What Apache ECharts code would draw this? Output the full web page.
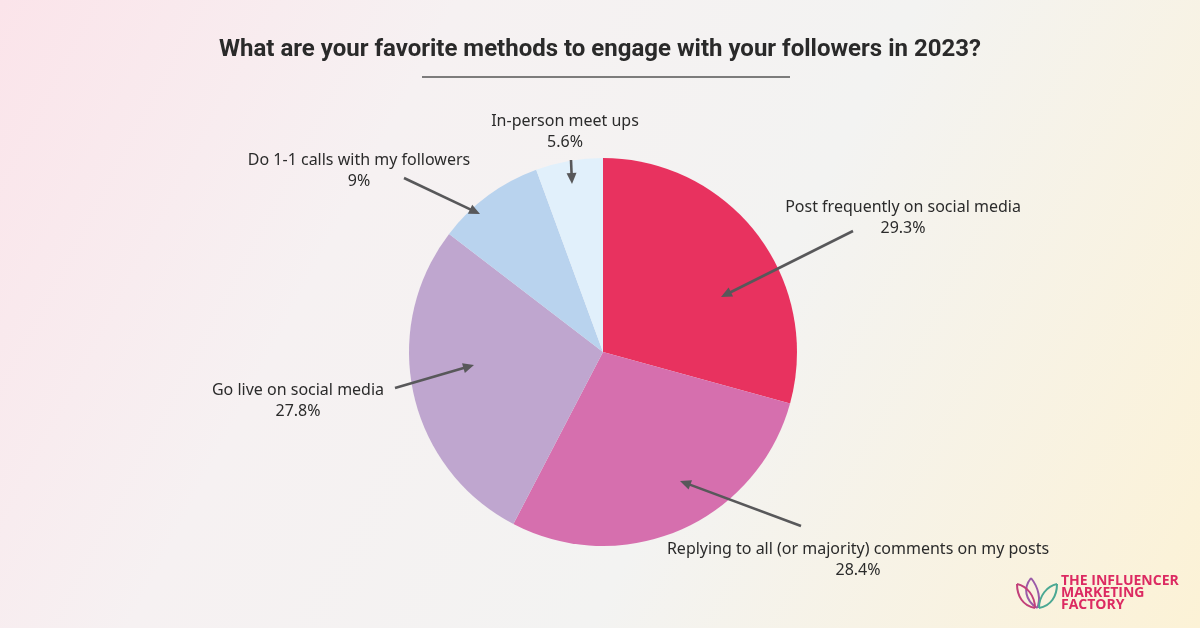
<!DOCTYPE html>
<html><head><meta charset="utf-8">
<script src="https://cdn.jsdelivr.net/npm/echarts@6/dist/echarts.min.js"></script>
<style>html,body{margin:0;padding:0;}#c{width:1200px;height:628px;}</style>
</head><body><div id="c"></div>
<script>
const categories = ['Post frequently on social media','Replying to all (or majority) comments on my posts','Go live on social media','Do 1-1 calls with my followers','In-person meet ups'];
const values = [29.3, 28.4, 27.8, 9, 5.6];
const colors = ['#E8325F','#D66FAE','#BFA6CF','#B9D3EE','#E1F0FB'];
const titleText = 'What are your favorite methods to engage with your followers in 2023?';

// label anchor positions (layout)
const labelPos = [[903,218],[858,560],[298,401],[359,171],[565,132]];
// arrow annotations: [tailX, tailY, tipX, tipY]
const arrows = [[853,231,721,297],[801,526,680,481],[395,388,474,365],[404,178,480,214],[571,160,572,184]];

function arrowGraphics(){
  const out = [];
  arrows.forEach(a=>{
    const [x1,y1,x2,y2]=a;
    const ang=Math.atan2(y2-y1,x2-x1);
    const L=11,W=5;
    const bx=x2-L*Math.cos(ang), by=y2-L*Math.sin(ang);
    out.push({type:'line',shape:{x1:x1,y1:y1,x2:bx+2*Math.cos(ang),y2:by+2*Math.sin(ang)},style:{stroke:'#58585a',lineWidth:2.6},z:10});
    out.push({type:'polygon',shape:{points:[[x2,y2],[bx-W*Math.sin(ang),by+W*Math.cos(ang)],[bx+W*Math.sin(ang),by-W*Math.cos(ang)]]},style:{fill:'#58585a'},z:10});
  });
  return out;
}
function petal(x1,y1,x2,y2,c1,c2,c3,c4,color){
  return [
    {type:'bezierCurve',shape:{x1:x1,y1:y1,x2:x2,y2:y2,cpx1:c1[0],cpy1:c1[1],cpx2:c2[0],cpy2:c2[1]},style:{stroke:color,lineWidth:2,fill:null}},
    {type:'bezierCurve',shape:{x1:x1,y1:y1,x2:x2,y2:y2,cpx1:c3[0],cpy1:c3[1],cpx2:c4[0],cpy2:c4[1]},style:{stroke:color,lineWidth:2,fill:null}}
  ];
}
const lx=1017, ly=574;
const logo = [
  ...petal(lx+20,ly+34,lx+14,ly+4,[lx+8,ly+26],[lx+6,ly+14],[lx+24,ly+26],[lx+22,ly+14],'#9B5BA8'),
  ...petal(lx+18,ly+34,lx+0,ly+10,[lx+6,ly+32],[lx+0,ly+22],[lx+18,ly+22],[lx+10,ly+12],'#C2407A'),
  ...petal(lx+22,ly+34,lx+40,ly+10,[lx+34,ly+32],[lx+40,ly+22],[lx+22,ly+22],[lx+30,ly+12],'#4BA893')
];

const chart = echarts.init(document.getElementById('c'));
chart.setOption({
  backgroundColor:{type:'linear',x:0,y:0,x2:1,y2:1,colorStops:[
    {offset:0,color:'#FBE4EA'},{offset:0.3,color:'#F6F1F2'},{offset:0.6,color:'#F3F3F2'},{offset:1,color:'#FCF2D6'}]},
  title:{text:titleText,left:'center',top:33,textStyle:{fontFamily:'Roboto',fontWeight:'bold',fontSize:24,color:'#2a2a2a'}},
  series:[{
    type:'pie',
    center:[603,352],
    radius:[0,194],
    startAngle:90,
    clockwise:true,
    silent:true,
    data:categories.map((c,i)=>({name:c,value:values[i],itemStyle:{color:colors[i]}})),
    label:{show:true,formatter:'{b}\n{c}%',fontFamily:'Noto Sans',fontSize:16,color:'#2b2b2b',lineHeight:21,align:'center'},
    labelLine:{show:false},
    labelLayout:function(p){const q=labelPos[p.dataIndex];return {x:q[0],y:q[1],align:'center',verticalAlign:'middle',hideOverlap:false};}
  }],
  graphic:[
    {type:'line',shape:{x1:422,y1:77,x2:790,y2:77},style:{stroke:'#555',lineWidth:1.5}},
    ...arrowGraphics(),
    ...logo,
    {type:'text',left:1061,top:574,style:{text:'THE INFLUENCER\nMARKETING\nFACTORY',fill:'#DC2A62',font:'bold 14px "Open Sans"',lineHeight:12}}
  ]
});
</script></body></html>
